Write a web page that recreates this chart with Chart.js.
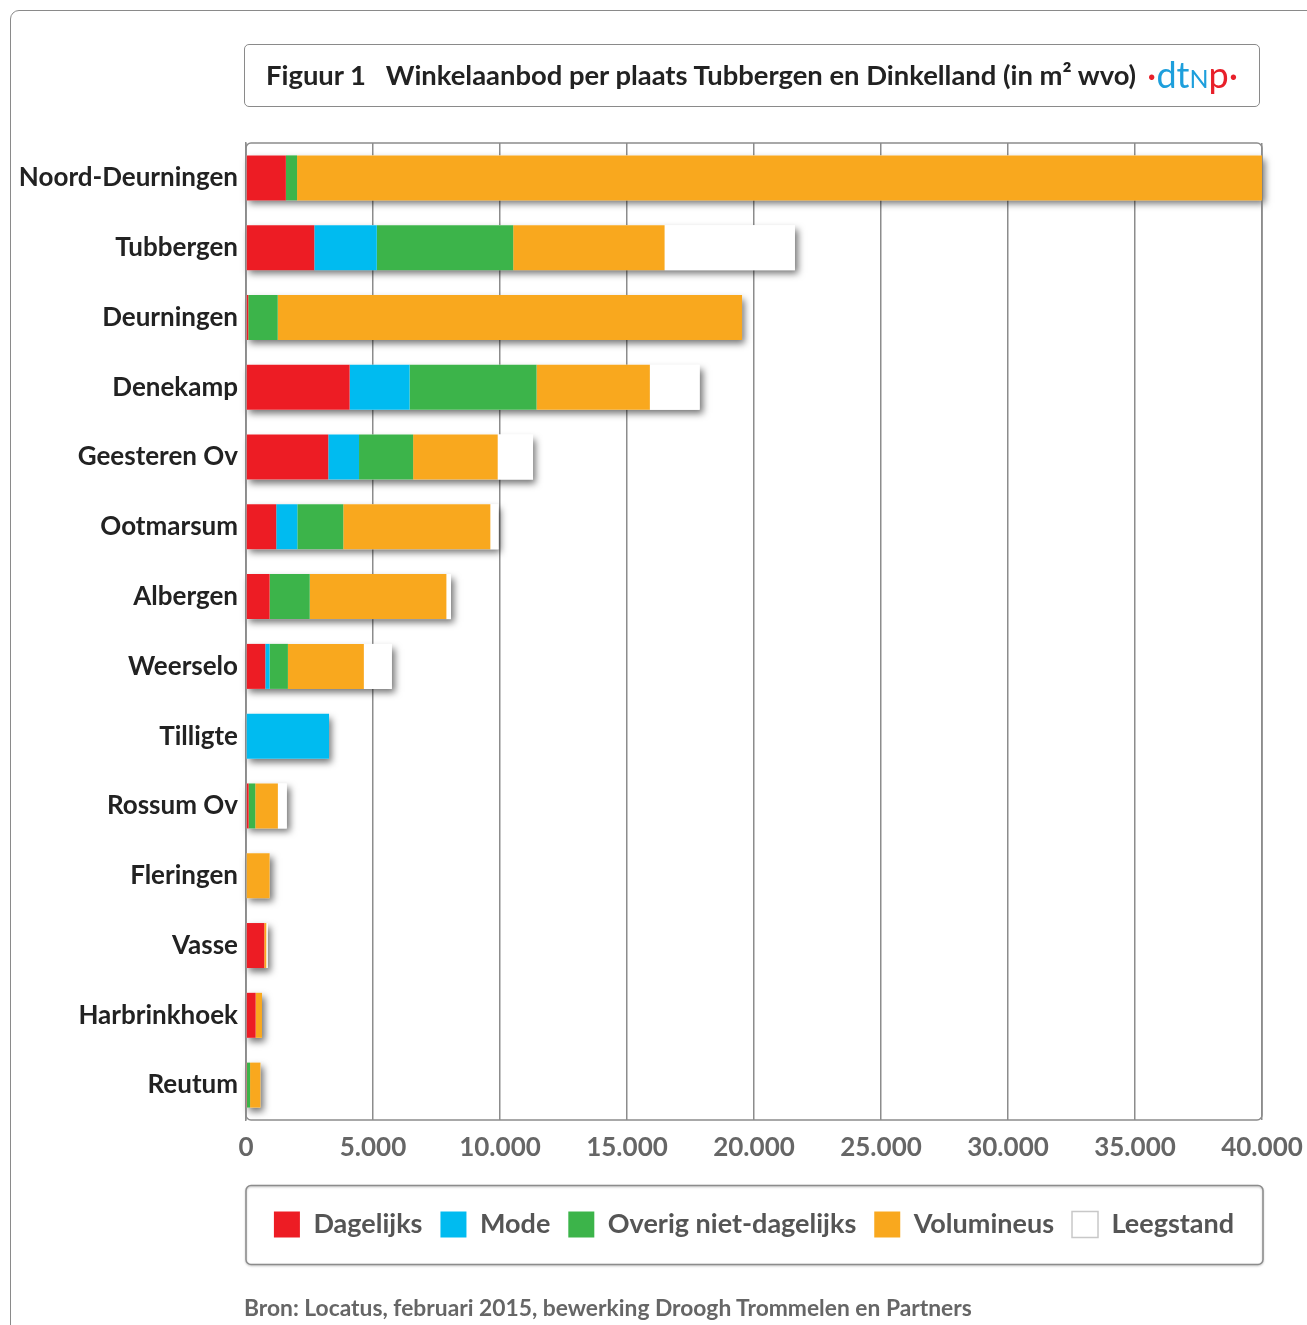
<!DOCTYPE html>
<html><head><meta charset="utf-8">
<script src="https://cdn.jsdelivr.net/npm/chart.js@4/dist/chart.umd.min.js"></script>
<style>
html,body{margin:0;padding:0;background:#fff;width:1307px;height:1325px;overflow:hidden;font-family:Lato,sans-serif;}
#frame{position:absolute;left:10px;top:10px;width:1330px;height:1350px;border:1.5px solid #8a8a8a;border-radius:9px;box-sizing:border-box;}
#title{position:absolute;left:244px;top:44px;width:1016px;height:63px;border:1.5px solid #8a8a8a;border-radius:5px;box-sizing:border-box;background:#fff;}
#title .t{position:absolute;left:21px;top:0;line-height:60px;font-weight:bold;font-size:27.4px;color:#222;white-space:pre;}
#logo{position:absolute;left:902px;top:0;line-height:58px;font-size:36px;white-space:pre;}
#logo .b{color:#1e9fdc}
#logo .r{color:#e8202a}
#logo .n{font-size:25px;color:#1e9fdc}
#src{position:absolute;left:244px;top:1293px;font-weight:bold;font-size:22.8px;color:#666;white-space:pre;}
canvas{position:absolute;left:0;top:0;}
</style></head>
<body>
<div id="frame"></div>
<canvas id="c" width="1307" height="1325"></canvas>
<div id="title"><div class="t">Figuur 1   Winkelaanbod per plaats Tubbergen en Dinkelland (in m² wvo)</div><div id="logo"><span class="r">·</span><span class="b">dt</span><span class="n">N</span><span class="r">p·</span></div></div>
<div id="src">Bron: Locatus, februari 2015, bewerking Droogh Trommelen en Partners</div>
<script>
const categories = ["Noord-Deurningen","Tubbergen","Deurningen","Denekamp","Geesteren Ov","Ootmarsum","Albergen","Weerselo","Tilligte","Rossum Ov","Fleringen","Vasse","Harbrinkhoek","Reutum"];
const dagelijks  = [1570, 2690,    90, 4080, 3240, 1190,  930,  760,    0,  105,   0, 720, 380,  40];
const mode       = [   0, 2460,     0, 2360, 1210,  830,    0,  170, 3270,    0,   0,   0,   0,   0];
const overig     = [ 440, 5370,  1160, 5000, 2130, 1810, 1580,  720,    0,  260,   0,   0,   0, 120];
const volumineus = [37990, 5960, 18280, 4460, 3330, 5790, 5380, 2990,    0,  890, 930,  80, 250, 410];
const leegstand  = [   0, 5130,     0, 1960, 1390,  320,  180, 1100,    0,  350,   0,  50,   0,   0];
const seriesNames = ["Dagelijks","Mode","Overig niet-dagelijks","Volumineus","Leegstand"];
const seriesColors = ["#ed1c24","#00bbf0","#3cb44a","#f9a81e","#ffffff"];
const xTicks = [0,5000,10000,15000,20000,25000,30000,35000,40000];

function fmt(v){ return String(v).replace(/\B(?=(\d{3})+(?!\d))/g,'.'); }

const seriesData = [dagelijks, mode, overig, volumineus, leegstand];

const shadowPlugin = {
  id:'barShadow',
  beforeDatasetsDraw(chart){
    const ctx=chart.ctx, xs=chart.scales.x;
    const meta=chart.getDatasetMeta(0);
    ctx.save();
    ctx.shadowColor='rgba(0,0,0,0.55)'; ctx.shadowBlur=7; ctx.shadowOffsetX=3; ctx.shadowOffsetY=4;
    ctx.fillStyle='#fff';
    categories.forEach((c,i)=>{
      const total = seriesData.reduce((s,d)=>s+d[i],0);
      const el=meta.data[i];
      const x0=xs.getPixelForValue(0), x1=xs.getPixelForValue(total);
      ctx.fillRect(x0, el.y-el.height/2, x1-x0, el.height);
    });
    ctx.restore();
  }
};
function rrect(ctx,x,y,w,h,r){
  ctx.beginPath();
  ctx.moveTo(x+r,y);ctx.lineTo(x+w-r,y);ctx.arcTo(x+w,y,x+w,y+r,r);
  ctx.lineTo(x+w,y+h-r);ctx.arcTo(x+w,y+h,x+w-r,y+h,r);
  ctx.lineTo(x+r,y+h);ctx.arcTo(x,y+h,x,y+h-r,r);
  ctx.lineTo(x,y+r);ctx.arcTo(x,y,x+r,y,r);ctx.closePath();
}
const framePlugin = {
  id:'frames',
  beforeDatasetsDraw(chart){
    const {ctx,chartArea:a}=chart;
    ctx.save();ctx.strokeStyle='#8c8c8c';ctx.lineWidth=1.5;
    rrect(ctx,a.left,a.top,a.right-a.left,a.bottom-a.top,5);ctx.stroke();
    ctx.restore();
  },
  afterDraw(chart){
    const {ctx,chartArea:a}=chart;
    const hb=chart.legend.legendHitBoxes[0];
    const cy=hb.top+hb.height/2;
    ctx.save();ctx.strokeStyle='#8c8c8c';ctx.lineWidth=1.5;
    ctx.shadowColor='rgba(0,0,0,0.25)';ctx.shadowBlur=2;ctx.shadowOffsetY=1;
    rrect(ctx,a.left,cy-39,a.right-a.left+1,79,5);ctx.stroke();
    ctx.restore();
  }
};

new Chart(document.getElementById('c'),{
  type:'bar',
  data:{
    labels:categories,
    datasets:seriesData.map((d,i)=>({label:seriesNames[i],data:d,backgroundColor:seriesColors[i],borderWidth:0,barPercentage:0.645,categoryPercentage:1}))
  },
  options:{
    indexAxis:'y',responsive:false,animation:false,devicePixelRatio:1,
    layout:{padding:{top:143,right:45,bottom:77,left:0}},
    scales:{
      x:{stacked:true,min:0,max:40000,
        afterBuildTicks(s){ s.ticks = xTicks.map(v=>({value:v})); },
        afterFit(s){ s.height=73; s.paddingLeft=0; s.paddingRight=0; },
        grid:{color:'#8c8c8c',lineWidth:1.5,drawTicks:false},
        border:{display:false},
        ticks:{padding:12,color:'#666',font:{family:'Lato',size:26,weight:'bold'},callback:v=>fmt(v),maxRotation:0}
      },
      y:{stacked:true,
        afterFit(s){ s.width=246; },
        grid:{display:false,drawTicks:false},
        border:{color:'#8c8c8c',width:1.5},
        ticks:{padding:8,color:'#222',font:{family:'Lato',size:26,weight:'bold'}}
      }
    },
    plugins:{
      tooltip:{enabled:false},
      title:{display:false},
      legend:{position:'bottom',fullSize:false,align:'center',
        labels:{boxWidth:26,boxHeight:26,padding:18,color:'#555',font:{family:'Lato',size:27,weight:'bold'},
          generateLabels(chart){
            const items=Chart.defaults.plugins.legend.labels.generateLabels(chart);
            items.forEach((it,i)=>{ if(i===4){it.strokeStyle='#c8c8c8';it.lineWidth=1.5;} else {it.strokeStyle=it.fillStyle;it.lineWidth=0;} });
            return items;
          }
        }
      }
    }
  },
  plugins:[shadowPlugin,framePlugin]
});
</script>
</body></html>
